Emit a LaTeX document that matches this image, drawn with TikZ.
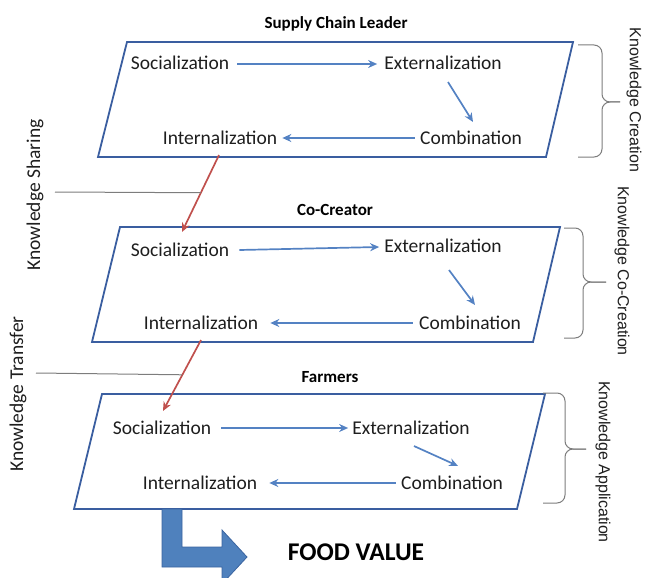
\documentclass[tikz,border=0pt]{standalone}
\usepackage{fontspec}
\setmainfont{Carlito}
\newfontfamily\arialf{Liberation Sans}
\usetikzlibrary{arrows.meta,calc}
\definecolor{boxblue}{RGB}{58,94,160}
\definecolor{arrblue}{RGB}{84,130,195}
\definecolor{redarr}{RGB}{192,80,77}
\definecolor{grayl}{RGB}{125,125,125}
\definecolor{fillblue}{RGB}{79,129,189}
\definecolor{edgeblue}{RGB}{58,100,160}
\definecolor{txt}{RGB}{30,30,30}
\begin{document}
\begin{tikzpicture}[x=1pt,y=-1pt,
  lbl/.style={font=\fontsize{19.5}{22}\selectfont, text=txt, inner sep=0pt},
  ttl/.style={font=\bfseries\fontsize{17}{20}\selectfont, text=black, inner sep=0pt},
  boxline/.style={draw=boxblue, line width=1.8pt, line join=miter},
  flow/.style={draw=arrblue, line width=1.7pt, -{Stealth[length=9pt,width=8pt]}},
  share/.style={draw=redarr, line width=1.7pt, -{Stealth[length=9pt,width=8pt]}},
  lead/.style={draw=grayl, line width=1pt},
  brc/.style={draw=grayl, line width=1pt, rounded corners=8pt},
  side/.style={font=\arialf\fontsize{16}{18}\selectfont, text=txt, inner sep=0pt, rotate=-90},
  lside/.style={font=\fontsize{19.5}{22}\selectfont, text=txt, inner sep=0pt, rotate=90}
]
\useasboundingbox (0,0) rectangle (646,578);

% ---------- Box 1: Supply Chain Leader ----------
\node[ttl] (t1) at (336,24) {Supply Chain Leader};
\draw[boxline] (127,42) -- (573,42) -- (546,157) -- (98,157) -- cycle;
\node[lbl] (s1) at (180,63) {Socialization};
\node[lbl] (e1) at (443,63) {Externalization};
\node[lbl] (c1) at (471,138) {Combination};
\node[lbl] (i1) at (220,138) {Internalization};
\draw[flow] ($(s1.east)+(8,1)$) -- ($(e1.west)+(-7,1)$);
\draw[flow] ($(e1.south)+(5,12)$) -- ($(c1.north)+(2,-9)$);
\draw[flow] ($(c1.west)+(-5,0)$) -- ($(i1.east)+(5,0)$);

% ---------- Box 2: Co-Creator ----------
\node[ttl] (t2) at (335,210) {Co-Creator};
\draw[boxline] (120,227) -- (560,227) -- (533,342) -- (92,342) -- cycle;
\node[lbl] (s2) at (180,250) {Socialization};
\node[lbl] (e2) at (443,246) {Externalization};
\node[lbl] (c2) at (470,323) {Combination};
\node[lbl] (i2) at (201,323) {Internalization};
\draw[flow] ($(s2.east)+(10,0)$) -- ($(e2.west)+(-5,1)$);
\draw[flow] ($(e2.south)+(6,17)$) -- ($(c2.north)+(5,-11)$);
\draw[flow] ($(c2.west)+(-6,0)$) -- ($(i2.east)+(12,0)$);

% ---------- Box 3: Farmers ----------
\node[ttl] (t3) at (330,377) {Farmers};
\draw[boxline] (102,394) -- (545,394) -- (517,509) -- (74,509) -- cycle;
\node[lbl] (s3) at (162,428) {Socialization};
\node[lbl] (e3) at (411,428) {Externalization};
\node[lbl] (c3) at (452,483) {Combination};
\node[lbl] (i3) at (200,483) {Internalization};
\draw[flow] ($(s3.east)+(10,0)$) -- ($(e3.west)+(-4,0)$);
\draw[flow] ($(e3.south)+(3,11)$) -- ($(c3.north)+(6,-10)$);
\draw[flow] ($(c3.west)+(-5,0)$) -- ($(i3.east)+(12,0)$);

% ---------- Knowledge sharing / transfer ----------
\draw[share] ($(i1.south)+(-1,10)$) -- coordinate[pos=0.49] (m1) ($(s2.north)+(2,-11)$);
\draw[share] ($(i2.south)+(0,10)$) -- coordinate[pos=0.49] (m2) ($(s3.north)+(1,-10)$);
\coordinate (k1) at (55,192);
\coordinate (k2) at (36,373);
\draw[lead] (k1) -- (m1);
\draw[lead] (k2) -- (m2);
\node[lside] (ks) at (35,195) {Knowledge Sharing};
\node[lside] (kt) at (18,394) {Knowledge Transfer};

% ---------- Braces ----------
\draw[brc] (578,45) -- (602,45) -- (602,102) -- (620,102);
\draw[brc] (578,157) -- (602,157) -- (602,102) -- (620,102);
\draw[brc] (564,228) -- (583,228) -- (583,282) -- (606,282);
\draw[brc] (564,338) -- (583,338) -- (583,282) -- (606,282);
\draw[brc] (543,393) -- (565,393) -- (565,449) -- (586,449);
\draw[brc] (543,503) -- (565,503) -- (565,449) -- (586,449);
\node[side] (kc) at (634,100) {Knowledge Creation};
\node[side] (kcc) at (622,271) {Knowledge Co-Creation};
\node[side] (ka) at (603,462) {Knowledge Application};

% ---------- Food value arrow ----------
\begin{scope}
\clip (0,0) rectangle (646,578);
\draw[fill=fillblue, draw=edgeblue, line width=0.8pt, line join=miter]
  (162,509) -- (182,509) -- (182,547) -- (222,547) -- (222,530) -- (247,557)
  -- (222,584) -- (222,567) -- (162,567) -- cycle;
\end{scope}
\node[font=\bfseries\fontsize{25.5}{28}\selectfont, text=black, inner sep=0pt] (fv) at (356,552) {FOOD VALUE};
\end{tikzpicture}
\end{document}
